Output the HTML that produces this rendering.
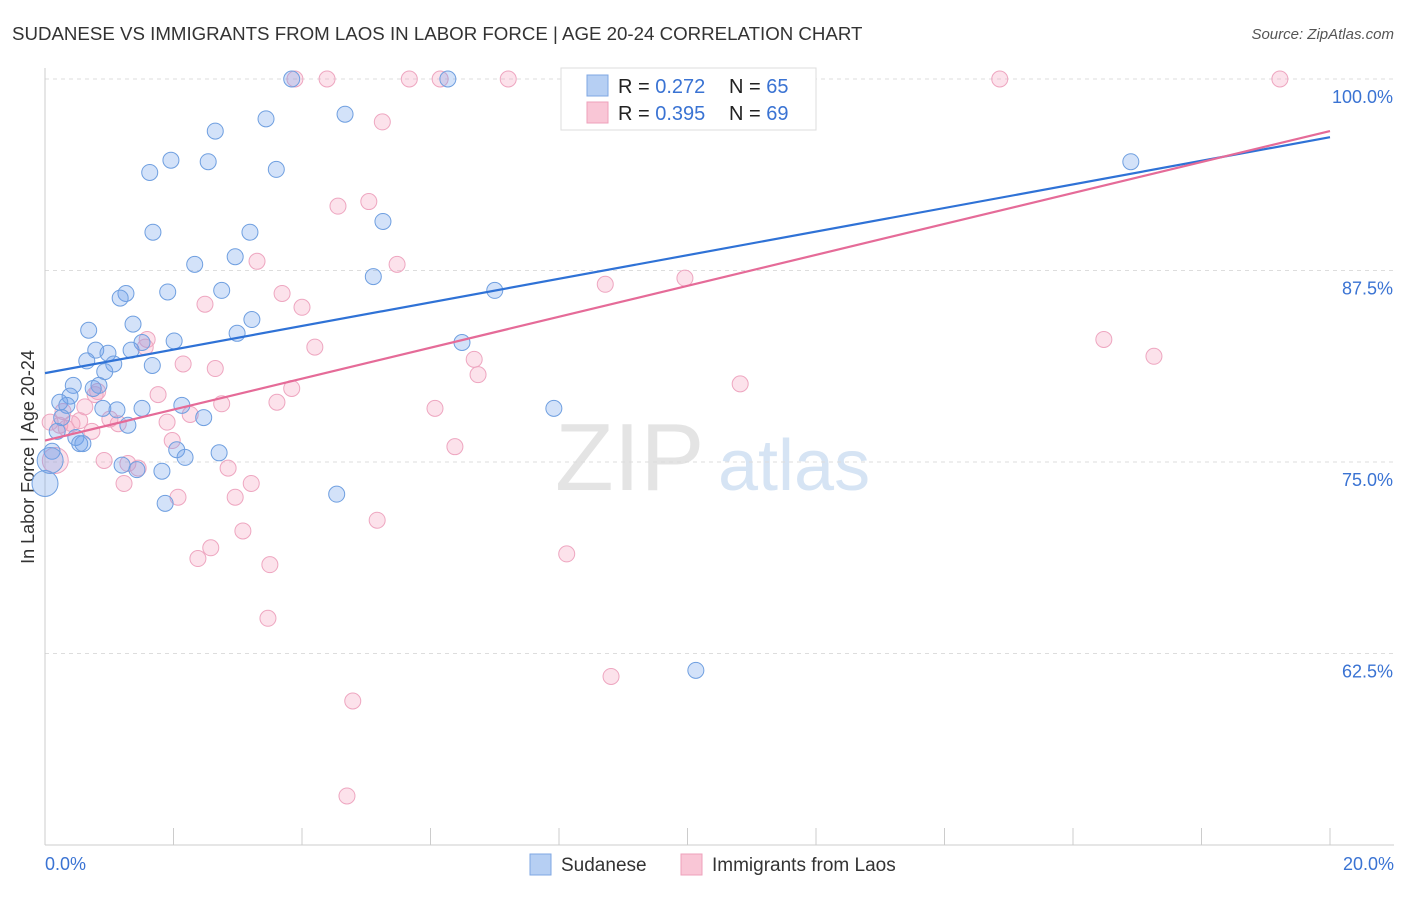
<!DOCTYPE html>
<html><head><meta charset="utf-8"><style>
body{margin:0;background:#fff;font-family:"Liberation Sans",sans-serif}
svg text{font-family:"Liberation Sans",sans-serif}
</style></head><body>
<svg id="c" width="1406" height="892" xmlns="http://www.w3.org/2000/svg">
<text x="12" y="40" font-size="18.7" fill="#333">SUDANESE VS IMMIGRANTS FROM LAOS IN LABOR FORCE | AGE 20-24 CORRELATION CHART</text>
<text x="1394" y="39" font-size="15" fill="#555" font-style="italic" text-anchor="end">Source: ZipAtlas.com</text>
<text x="555" y="490" font-size="96" fill="#e4e4e4" font-family="Liberation Serif">ZIP</text>
<text x="718" y="490" font-size="72" fill="#d6e4f4">atlas</text>
<text transform="translate(34,457) rotate(-90)" font-size="18" fill="#333" text-anchor="middle">In Labor Force | Age 20-24</text>
<g id="grid"></g><g id="axes"></g><g id="pts"></g><g id="lines"></g>
<g>
<rect x="561" y="68" width="255" height="62" fill="#fff" stroke="#ddd"/>
<rect x="587" y="75" width="21" height="21" fill="#b6cff3" stroke="#7fa7e3"/>
<rect x="587" y="102" width="21" height="21" fill="#f9c6d6" stroke="#eea0bb"/>
<text x="618" y="93" font-size="20" fill="#222">R = <tspan fill="#3a73d3">0.272</tspan><tspan x="729">N = </tspan><tspan fill="#3a73d3">65</tspan></text>
<text x="618" y="120" font-size="20" fill="#222">R = <tspan fill="#3a73d3">0.395</tspan><tspan x="729">N = </tspan><tspan fill="#3a73d3">69</tspan></text>
</g>
<g>
<rect x="530" y="854" width="21" height="21" fill="#b6cff3" stroke="#7fa7e3"/>
<text x="561" y="871" font-size="19" fill="#333">Sudanese</text>
<rect x="681" y="854" width="21" height="21" fill="#f9c6d6" stroke="#eea0bb"/>
<text x="712" y="871" font-size="19" fill="#333">Immigrants from Laos</text>
</g>
</svg>
<script>
const yTicks=[100,87.5,75,62.5];
const yTickLabels=["100.0%","87.5%","75.0%","62.5%"];
const xTickLabels=["0.0%","20.0%"];
const blueX=[3.84,6.27,4.67,3.44,2.65,1.96,2.54,1.63,3.60,5.26,1.68,3.19,2.33,2.96,5.11,1.91,2.75,1.26,1.17,7.00,1.37,3.22,2.99,0.68,2.01,1.51,1.34,6.49,0.79,0.98,0.65,1.07,1.67,0.93,0.44,0.84,0.75,0.39,0.23,0.34,1.12,0.90,1.51,2.13,0.26,1.29,2.47,0.19,0.48,0.54,0.59,0.11,2.05,2.18,2.71,1.20,1.43,1.82,7.92,4.54,1.87,0,10.13,16.9,0.08];
const blueY=[100,100,97.7,97.4,96.6,94.7,94.6,93.9,94.1,90.7,90.0,90.0,87.9,88.4,87.1,86.1,86.2,86.0,85.7,86.2,84.0,84.3,83.4,83.6,82.9,82.8,82.3,82.8,82.3,82.1,81.6,81.4,81.3,80.9,80.0,80.0,79.8,79.3,78.9,78.7,78.4,78.5,78.5,78.7,77.9,77.4,77.9,77.0,76.6,76.2,76.2,75.7,75.8,75.3,75.6,74.8,74.5,74.4,78.5,72.9,72.3,73.6,61.4,94.6,75.1];
const pinkX=[3.89,4.39,5.67,6.15,7.21,8.30,11.42,14.86,19.22,5.25,5.04,4.56,5.48,3.30,3.69,4.00,2.49,8.72,9.96,1.59,4.20,2.15,2.65,6.68,6.74,1.76,10.82,3.84,3.61,2.75,6.07,0.82,0.62,0.28,0.08,0.42,0.73,1.01,1.14,1.90,2.26,1.98,6.38,0.92,1.29,1.45,2.85,1.23,3.21,2.07,2.96,5.17,3.08,2.58,2.38,3.50,8.12,3.47,8.81,4.79,4.70,16.48,17.26,0.16,0.23,1.56,0.78,0.54,0.33];
const pinkY=[100,100,100,100,100,100,100,100,100,97.2,92.0,91.7,87.9,88.1,86.0,85.1,85.3,86.6,87.0,83.0,82.5,81.4,81.1,81.7,80.7,79.4,80.1,79.8,78.9,78.8,78.5,79.6,78.6,78.3,77.6,77.5,77.0,77.8,77.5,77.6,78.1,76.4,76.0,75.1,74.9,74.6,74.6,73.6,73.6,72.7,72.7,71.2,70.5,69.4,68.7,68.3,69.0,64.8,61.0,59.4,53.2,83.0,81.9,75.1,77.4,82.5,79.4,77.7,77.2];
const blueLine=[80.8,96.2];
const pinkLine=[76.4,96.6];
const X=v=>45+v*64.25, Y=v=>79+(100-v)*15.32;
const NS="http://www.w3.org/2000/svg";
function mk(p,t,a){const e=document.createElementNS(NS,t);for(const k in a)e.setAttribute(k,a[k]);p.appendChild(e);return e;}
const grid=document.getElementById('grid'),axes=document.getElementById('axes'),pts=document.getElementById('pts'),lines=document.getElementById('lines');
yTicks.forEach((t,i)=>{
 const l=mk(grid,'line',{x1:45,x2:1394,y1:Y(t),y2:Y(t),stroke:'#ddd','stroke-dasharray':'4,4'});
 
 
 const tx=mk(axes,'text',{x:1393,y:Y(t)+24,'font-size':18,fill:'#3a73d3','text-anchor':'end'});tx.textContent=yTickLabels[i];
 
 
});
const xa=mk(axes,'line',{x1:45,x2:1394,y1:845,y2:845,stroke:'#ccc'});


const ya=mk(axes,'line',{x1:45,x2:45,y1:68,y2:845,stroke:'#ccc'});


for(let i=0;i<=10;i++){const t=mk(axes,'line',{x1:X(i*2),x2:X(i*2),y1:828,y2:845,stroke:'#ccc'});
 
 }
[[0,'start',45],[20,'end',1394]].forEach((d,i)=>{const t=mk(axes,'text',{x:d[2],y:870,'font-size':18,fill:'#3a73d3','text-anchor':d[1]});t.textContent=xTickLabels[i];
 
 });
function dots(xs,ys,fill,stroke,name){xs.forEach((x,i)=>{const big=(x<0.2&&(ys[i]===73.6||ys[i]===75.1));
 const c=mk(pts,'circle',{cx:X(x),cy:Y(ys[i]),r:big?13:8,fill:fill,stroke:stroke,'stroke-width':1});
 
 });}
dots(pinkX,pinkY,'rgba(244,160,190,0.3)','#eea6c0','laos-point');
dots(blueX,blueY,'rgba(110,160,235,0.3)','#6f9fe0','sudanese-point');
const bl=mk(lines,'line',{x1:X(0),y1:Y(blueLine[0]),x2:X(20),y2:Y(blueLine[1]),stroke:'#2f72d6','stroke-width':2.2});


const pl=mk(lines,'line',{x1:X(0),y1:Y(pinkLine[0]),x2:X(20),y2:Y(pinkLine[1]),stroke:'#e56b98','stroke-width':2.2});


</script>
</body></html>
